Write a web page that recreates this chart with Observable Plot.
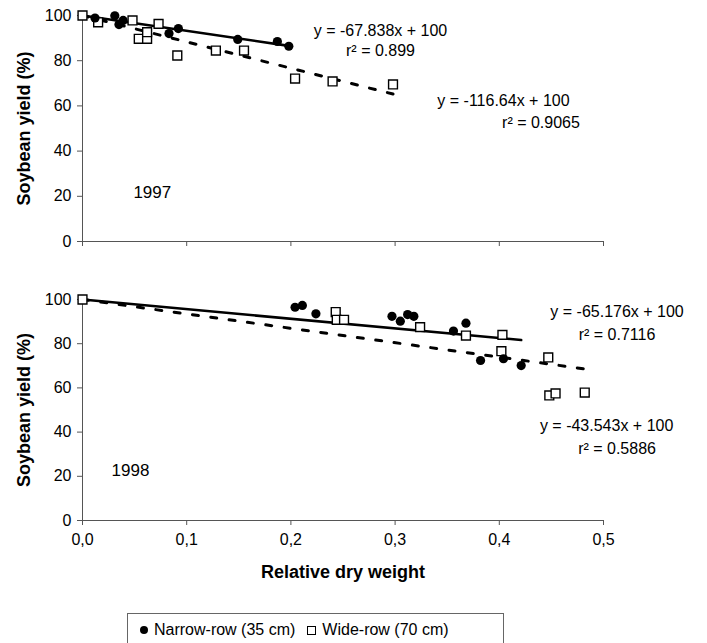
<!DOCTYPE html>
<html><head><meta charset="utf-8">
<script src="https://cdn.jsdelivr.net/npm/d3@7"></script>
<script src="https://cdn.jsdelivr.net/npm/@observablehq/plot@0.6"></script>
<style>
body{margin:0;background:#fff;}
#wrap{position:relative;width:707px;height:643px;overflow:hidden;font-family:"Liberation Sans",Arial,sans-serif;background:#fff;}
#top{position:absolute;left:0;top:0;}
#bottom{position:absolute;left:0;top:260px;}
#legend{position:absolute;left:127px;top:613px;width:377px;height:34px;border:1px solid #666;box-sizing:border-box;font-size:16px;color:#000;display:flex;align-items:center;padding-left:12px;white-space:nowrap;}
#legend .c{display:inline-block;width:8px;height:8px;border-radius:50%;background:#000;margin-right:6px;}
#legend .s{display:inline-block;width:7px;height:7px;border:1px solid #000;margin-left:12px;margin-right:6px;}
</style></head><body>
<div id="wrap">
<div id="top"></div>
<div id="bottom"></div>
<div id="legend"><span class="c"></span>Narrow-row (35 cm)<span class="s"></span>Wide-row (70 cm)</div>
</div>
<script>
// ---- data ----
const xTicks = [0, 0.1, 0.2, 0.3, 0.4, 0.5];
const yTicks = [0, 20, 40, 60, 80, 100];
const years = ["1997", "1998"];

const narrow1997X = [0.012, 0.031, 0.035, 0.039, 0.083, 0.092, 0.149, 0.187, 0.198];
const narrow1997Y = [98.9, 99.9, 96.0, 97.8, 92.0, 94.2, 89.4, 88.5, 86.4];
const wide1997X = [0.0, 0.015, 0.048, 0.073, 0.054, 0.062, 0.062, 0.091, 0.128, 0.155, 0.204, 0.240, 0.298];
const wide1997Y = [100, 97.0, 97.8, 96.3, 89.7, 89.7, 92.6, 82.3, 84.5, 84.5, 72.1, 70.8, 69.5];

const narrow1998X = [0.204, 0.211, 0.224, 0.297, 0.305, 0.312, 0.318, 0.356, 0.368, 0.382, 0.404, 0.421];
const narrow1998Y = [96.5, 97.3, 93.5, 92.4, 90.2, 93.2, 92.4, 85.7, 89.3, 72.4, 73.2, 70.1];
const wide1998X = [0.0, 0.243, 0.244, 0.251, 0.324, 0.368, 0.403, 0.402, 0.447, 0.448, 0.454, 0.482];
const wide1998Y = [100, 94.3, 90.8, 90.8, 87.5, 83.7, 84.0, 76.6, 73.8, 56.6, 57.5, 57.9];

// trend equations: [narrow, wide]
const slopes1997 = [-67.838, -116.64];
const r2_1997 = ["0.899", "0.9065"];
const slopes1998 = [-43.543, -65.176];
const r2_1998 = ["0.5886", "0.7116"];
const intercept = 100;

const fmtX = d => d.toFixed(1).replace(".", ",");
const eq = s => `y = ${s}x + ${intercept}`;

function rows(xs, ys) { return xs.map((x, i) => ({x, y: ys[i]})); }
function trend(xs, slope) {
  return [0, d3.max(xs)].map(x => ({x, y: intercept + slope * x}));
}

function panel(o) {
  const narrow = rows(o.nx, o.ny), wide = rows(o.wx, o.wy);
  return Plot.plot({
    width: 707, height: o.height,
    marginLeft: 82, marginRight: 104, marginTop: o.mt, marginBottom: o.mb,
    style: {fontFamily: "Liberation Sans, Arial, sans-serif", fontSize: "16px", background: "transparent", color: "#000", overflow: "visible"},
    x: {domain: [0, 0.5]},
    y: {domain: [0, 100]},
    marks: [
      Plot.axisY({ticks: yTicks, tickSize: 5, tickPadding: 6, label: null, fontSize: 16, stroke: "#555"}),
      Plot.axisX({ticks: xTicks, tickSize: 5, tickPadding: 8, label: null, fontSize: 16, stroke: "#555",
        tickFormat: o.xlabels ? fmtX : () => ""}),
      Plot.ruleX([0], {stroke: "#555", strokeWidth: 1}),
      Plot.ruleY([0], {stroke: "#555", strokeWidth: 1}),
      Plot.line(trend(o.nx, o.slopes[0]), {x: "x", y: "y", stroke: "#000", strokeWidth: 2.6}),
      Plot.line(trend(o.wx, o.slopes[1]), {x: "x", y: "y", stroke: "#000", strokeWidth: 3, strokeDasharray: "6,12.5"}),
      Plot.dot(wide, {x: "x", y: "y", symbol: "square", r: 5, stroke: "#000", strokeWidth: 1.4, fill: "#fff"}),
      Plot.dot(narrow, {x: "x", y: "y", symbol: "circle", r: 4.6, fill: "#000", stroke: "none"}),
      Plot.text(o.notes, {x: "x", y: "y", text: "t", fontSize: 16, textAnchor: "middle", fill: "#000"}),
      Plot.text([o.year], {x: o.yearPos[0], y: o.yearPos[1], text: d => d, fontSize: 17, fill: "#000"}),
      Plot.text(["Soybean yield (%)"], {frameAnchor: "left", textAnchor: "middle", dx: -58, rotate: -90, fontWeight: "bold", fontSize: 18, fill: "#000"}),
      ...(o.xlabels ? [Plot.text(["Relative dry weight"], {frameAnchor: "bottom", textAnchor: "middle", dy: 57, fontWeight: "bold", fontSize: 18, fill: "#000"})] : [])
    ]
  });
}

document.getElementById("top").append(panel({
  nx: narrow1997X, ny: narrow1997Y, wx: wide1997X, wy: wide1997Y,
  slopes: slopes1997, height: 260, mt: 15, mb: 19, xlabels: false,
  year: years[0], yearPos: [0.067, 21.7],
  notes: [
    {x: 0.286, y: 93.4, t: eq(slopes1997[0])},
    {x: 0.286, y: 84.2, t: `r² = ${r2_1997[0]}`},
    {x: 0.404, y: 62.4, t: eq(slopes1997[1])},
    {x: 0.44, y: 52.7, t: `r² = ${r2_1997[1]}`}
  ]
}));

document.getElementById("bottom").append(panel({
  nx: narrow1998X, ny: narrow1998Y, wx: wide1998X, wy: wide1998Y,
  slopes: slopes1998, height: 335, mt: 39, mb: 75, xlabels: true,
  year: years[1], yearPos: [0.046, 22.6],
  notes: [
    {x: 0.513, y: 94.6, t: eq(slopes1998[1])},
    {x: 0.513, y: 84.2, t: `r² = ${r2_1998[1]}`},
    {x: 0.503, y: 43.0, t: eq(slopes1998[0])},
    {x: 0.513, y: 32.6, t: `r² = ${r2_1998[0]}`}
  ]
}));
</script>
</body></html>
